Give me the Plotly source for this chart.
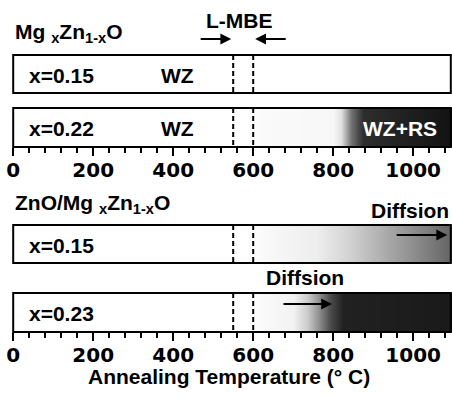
import plotly.graph_objects as go

# ---------------- data ----------------
tick_vals = [0, 200, 400, 600, 800, 1000]
tick_text = ["0", "200", "400", "600", "800", "1000"]
lmbe_window = [550, 600]            # L-MBE growth window (°C)

# gradient control points: temperature (°C) and darkness (0 = white, 1 = black)
t_mg022 = [0, 600, 620, 800, 820, 845, 875, 950, 1100]
d_mg022 = [0, 0, 0.02, 0.03, 0.12, 0.55, 0.82, 0.86, 0.93]

t_zno015 = [0, 600, 620, 760, 842, 925, 1010, 1100]
d_zno015 = [0, 0, 0.02, 0.07, 0.18, 0.32, 0.46, 0.62]

t_zno023 = [0, 600, 620, 700, 735, 760, 792, 825, 1100]
d_zno023 = [0, 0, 0.02, 0.05, 0.2, 0.4, 0.7, 0.87, 0.9]

bar_labels = ["x=0.15", "x=0.22", "x=0.15", "x=0.23"]
diff_arrow_top = [955, 1085]        # diffusion arrow in ZnO/Mg0.15 bar
diff_arrow_bot = [672, 797]         # diffusion arrow in ZnO/Mg0.23 bar
x_title = "Annealing Temperature (° C)"

# ---------------- layout constants (pixels, y downward) ----------------
H, W = 397, 452
bar_top = [55, 108, 225, 293]
bar_bot = [93, 147, 263, 332]
XMIN, XMAX = -3, 1097
BAR_X1 = 1094

LBL = dict(family="Liberation Sans, Arial, sans-serif", size=21, color="black", weight="bold")
TICKF = dict(family="DejaVu Sans, sans-serif", size=20, color="black", weight="bold")

fig = go.Figure()

grad_data = [(1, t_mg022, d_mg022, "x"), (2, t_zno015, d_zno015, "x2"), (3, t_zno023, d_zno023, "x2")]
for i, tt, dd, xa in grad_data:
    h = bar_bot[i] - bar_top[i]
    ys = [bar_top[i] + h / 4, bar_top[i] + 3 * h / 4]
    fig.add_trace(go.Heatmap(
        x=tt, y=ys, z=[dd, dd], zmin=0, zmax=1, zsmooth="best",
        colorscale=[[0, "#ffffff"], [1, "#000000"]], showscale=False,
        hoverinfo="skip", xaxis=xa, yaxis="y"))

shapes = []
for i in range(4):
    xr = "x" if i < 2 else "x2"
    shapes.append(dict(type="rect", xref=xr, yref="y", x0=0, x1=BAR_X1,
                       y0=bar_top[i], y1=bar_bot[i], line=dict(color="black", width=2)))
    for t in lmbe_window:
        shapes.append(dict(type="line", xref=xr, yref="y", x0=t, x1=t,
                           y0=bar_top[i], y1=bar_bot[i],
                           line=dict(color="black", width=2, dash="5px,3px")))

ann = []
def txt(x, y, s, xr="x", xanchor="center", font=LBL):
    ann.append(dict(x=x, y=y, xref=xr, yref="y", text=s, showarrow=False,
                    xanchor=xanchor, yanchor="middle", font=font))

for i in range(4):
    xr = "x" if i < 2 else "x2"
    txt(34, (bar_top[i] + bar_bot[i]) / 2 + 1, bar_labels[i], xr, "left")
txt(410, 75, "WZ")
txt(410, 128, "WZ")
txt(968, 128, "WZ+RS", font=dict(LBL, color="white"))
txt(0, 33, "Mg <sub>x</sub>Zn<sub>1-x</sub>O", xanchor="left")
txt(565, 20, "L-MBE")
txt(0, 204, "ZnO/Mg <sub>x</sub>Zn<sub>1-x</sub>O", "x2", "left")
txt(1094, 210, "Diffsion", "x2", "right")
txt(730, 277, "Diffsion", "x2")
txt(540, 376, x_title, "x2",
    font=dict(family="Liberation Sans, Arial, sans-serif", size=21, color="black", weight="bold"))

def arrow(x_tail, x_head, y, xr):
    ann.append(dict(x=x_head, y=y, ax=x_tail, ay=y, xref=xr, yref="y",
                    axref=xr, ayref="y", text="", showarrow=True,
                    arrowhead=2, arrowsize=1.2, arrowwidth=1.8, arrowcolor="black",
                    standoff=0, startstandoff=0))

arrow(lmbe_window[0] - 85, lmbe_window[0] - 5, 39, "x")
arrow(lmbe_window[1] + 85, lmbe_window[1] + 5, 39, "x")
arrow(diff_arrow_top[0], diff_arrow_top[1], 235, "x2")
arrow(diff_arrow_bot[0], diff_arrow_bot[1], 304, "x2")

axis_common = dict(range=[XMIN, XMAX], tickvals=tick_vals, ticktext=tick_text,
                   ticks="outside", ticklen=8, tickwidth=2, tickcolor="black",
                   showgrid=False, zeroline=False, showline=False,
                   tickfont=TICKF, ticklabelstandoff=-3, ticklabeloverflow="allow",
                   minor=dict(dtick=40, tick0=0, ticks="outside", ticklen=5,
                              tickwidth=1.5, tickcolor="black", showgrid=False))

fig.update_layout(
    width=W, height=H,
    margin=dict(l=12, r=0, t=0, b=0, pad=0),
    paper_bgcolor="white", plot_bgcolor="white",
    showlegend=False,
    shapes=shapes, annotations=ann,
    xaxis=dict(axis_common, anchor="free", position=1 - bar_bot[1] / H),
    xaxis2=dict(axis_common, anchor="free", position=1 - bar_bot[3] / H,
                overlaying="x", matches="x"),
    yaxis=dict(range=[H, 0], visible=False, domain=[0, 1], fixedrange=True),
)

fig.write_html("out.html", config={"displayModeBar": False},
               post_script="document.body.style.margin='0';document.body.style.overflow='hidden';")
